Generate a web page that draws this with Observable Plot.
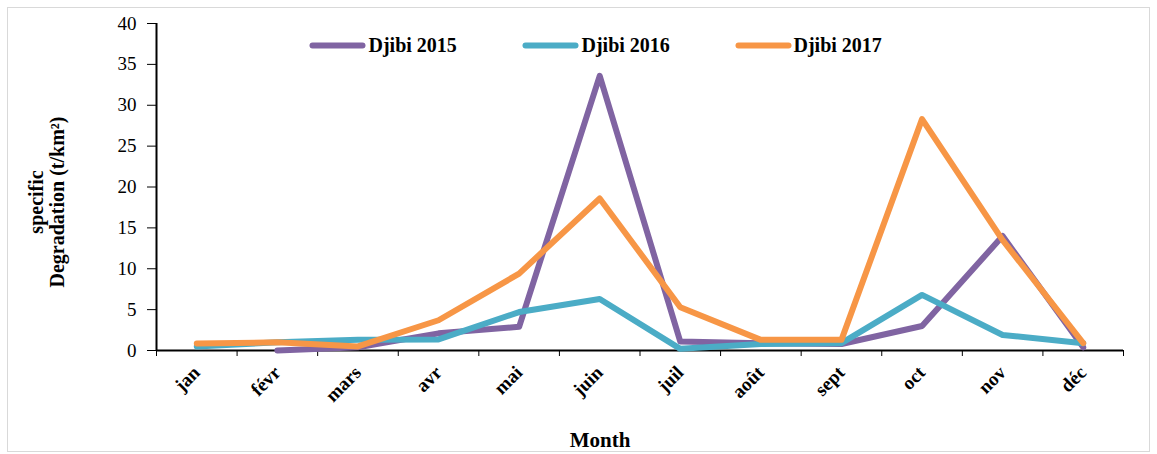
<!DOCTYPE html>
<html>
<head>
<meta charset="utf-8">
<script src="https://cdn.jsdelivr.net/npm/d3@7"></script>
<script src="https://cdn.jsdelivr.net/npm/@observablehq/plot@0.6"></script>
<style>
  body { margin: 0; background: #fff; }
  #wrap { position: relative; width: 1157px; height: 454px; overflow: hidden; }
  #frame { position: absolute; left: 7px; top: 7px; width: 1143px; height: 445px; border: 1px solid #d9d9d9; box-sizing: border-box; }
  #chart { position: absolute; left: 0; top: 0; }
  g[aria-label="x-axis tick label"] text { font-weight: bold; }
</style>
</head>
<body>
<div id="wrap">
  <div id="frame"></div>
  <div id="chart"></div>
</div>
<script>
const months = ["jan","févr","mars","avr","mai","juin","juil","août","sept","oct","nov","déc"];
const seriesNames = ["Djibi 2015","Djibi 2016","Djibi 2017"];
const seriesColors = ["#8064A2","#4BACC6","#F79646"];
const djibi2015 = [null, 0.0, 0.4, 2.1, 2.9, 33.6, 1.1, 0.9, 0.8, 3.0, 14.0, 0.4];
const djibi2016 = [0.5, 1.0, 1.3, 1.35, 4.7, 6.3, 0.2, 0.8, 0.9, 6.8, 1.9, 0.9];
const djibi2017 = [0.85, 1.0, 0.5, 3.7, 9.4, 18.6, 5.3, 1.3, 1.3, 28.3, 13.5, 0.9];
const yTicks = [0, 5, 10, 15, 20, 25, 30, 35, 40];
const yLabelLines = ["specific", "Degradation (t/km²)"];
const xTitle = "Month";

const allSeries = [djibi2015, djibi2016, djibi2017];
const rows = [];
allSeries.forEach((vals, s) => {
  vals.forEach((v, i) => {
    if (v !== null) rows.push({series: seriesNames[s], idx: i, pos: i + 0.5, value: v});
  });
});
const centers = months.map((m, i) => i + 0.5);
const bounds = d3.range(0, months.length + 1);

// legend swatch: a short horizontal stroke drawn as a custom symbol
const lineSymbol = {draw(context) { context.moveTo(-25, 0); context.lineTo(25, 0); }};
const legendSwatchDx = [181, 394, 607];
const legendTextDx = [212, 425, 637];

const chart = Plot.plot({
  width: 1157,
  height: 454,
  marginLeft: 156,
  marginRight: 34,
  marginTop: 23,
  marginBottom: 104,
  style: {fontFamily: "Liberation Serif, serif", background: "transparent", color: "#000"},
  x: {type: "linear", domain: [0, months.length]},
  y: {domain: [0, 40]},
  color: {domain: seriesNames, range: seriesColors},
  marks: [
    Plot.axisY({ticks: yTicks, tickSize: 9, tickPadding: 11, fontSize: 19, label: null}),
    Plot.axisX({ticks: bounds, tickSize: 6, tickFormat: () => "", label: null}),
    Plot.axisX({ticks: centers, tickSize: 0, tickPadding: 19, tickRotate: -45, fontSize: 19, fontWeight: "bold",
      tickFormat: d => months[Math.round(d - 0.5)], label: null}),
    Plot.ruleX([0], {stroke: "#000", strokeWidth: 2}),
    Plot.ruleY([0], {stroke: "#000", strokeWidth: 2}),
    ...seriesNames.map(name => Plot.line(rows.filter(r => r.series === name), {
      x: "pos", y: "value", stroke: "series", strokeWidth: 6
    })),
    ...seriesNames.map((name, i) => Plot.dot([name], {
      frameAnchor: "top-left", dx: legendSwatchDx[i], dy: 22, symbol: lineSymbol, r: 10,
      stroke: seriesColors[i], strokeWidth: 6, strokeLinecap: "round", fill: "none"
    })),
    ...seriesNames.map((name, i) => Plot.text([name], {
      frameAnchor: "top-left", dx: legendTextDx[i], dy: 22, textAnchor: "start", lineAnchor: "middle",
      fontSize: 20, fontWeight: "bold", text: d => d
    })),
    Plot.text([yLabelLines[0]], {frameAnchor: "left", textAnchor: "middle", rotate: -90, dx: -120, dy: 15, fontSize: 20, fontWeight: "bold", text: d => d}),
    Plot.text([yLabelLines[1]], {frameAnchor: "left", textAnchor: "middle", rotate: -90, dx: -99, dy: 15, fontSize: 20, fontWeight: "bold", text: d => d}),
    Plot.text([xTitle], {frameAnchor: "bottom", dx: -40, dy: 96, fontSize: 21, fontWeight: "bold", text: d => d})
  ]
});
document.getElementById("chart").appendChild(chart);
</script>
</body>
</html>
